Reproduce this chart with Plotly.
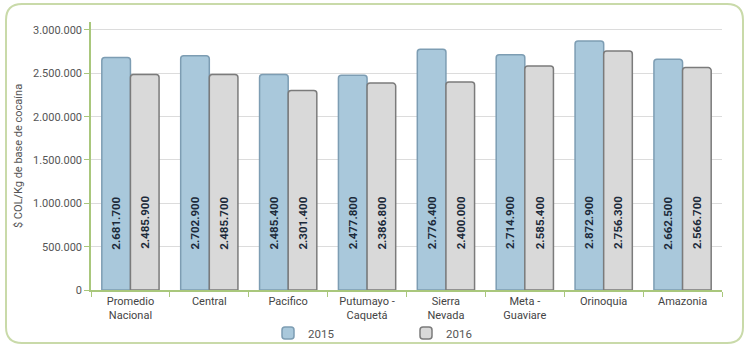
import plotly.graph_objects as go

categories = ["Promedio<br>Nacional", "Central", "Pacifico", "Putumayo -<br>Caquetá",
              "Sierra<br>Nevada", "Meta -<br>Guaviare", "Orinoquia", "Amazonia"]
values_2015 = [2681700, 2702900, 2485400, 2477800, 2776400, 2714900, 2872900, 2662500]
values_2016 = [2485900, 2485700, 2301400, 2386800, 2400000, 2585400, 2756300, 2566700]
y_ticks = [0, 500000, 1000000, 1500000, 2000000, 2500000, 3000000]

W, H = 750, 351
ml, mr, mt, mb = 91, 28, 22, 61
pw, ph = W - ml - mr, H - mt - mb

def px(x):
    return (x - ml) / pw

def py(y):
    return (H - mb - y) / ph

fig = go.Figure()
fig.add_trace(go.Bar(
    x=categories, y=values_2015, name="2015",
    marker=dict(color="#a9c8db", line=dict(color="#7d9db3", width=1.5)),
))
fig.add_trace(go.Bar(
    x=categories, y=values_2016, name="2016",
    marker=dict(color="#d9d9d9", line=dict(color="#7b7b7b", width=1.5)),
))

annotations = []
offset = 14.6
for series, shift in ((values_2015, -offset), (values_2016, offset)):
    for c, v in zip(categories, series):
        annotations.append(dict(
            x=c, y=775000, xref="x", yref="y", xshift=shift,
            text=f"{v:,}".replace(",", "."), textangle=-90, showarrow=False,
            font=dict(family="Roboto", size=11.5, color="#1c2a3a", weight="bold"),
        ))

# rounded outer border
x0, x1 = px(6), px(743)
y0, y1 = py(343), py(4)
rx, ry = 16 / pw, 16 / ph
path = (f"M {x0+rx},{y1} L {x1-rx},{y1} Q {x1},{y1} {x1},{y1-ry} "
        f"L {x1},{y0+ry} Q {x1},{y0} {x1-rx},{y0} L {x0+rx},{y0} "
        f"Q {x0},{y0} {x0},{y0+ry} L {x0},{y1-ry} Q {x0},{y1} {x0+rx},{y1} Z")

fig.update_layout(
    width=W, height=H,
    margin=dict(l=ml, r=mr, t=mt, b=mb, autoexpand=False),
    paper_bgcolor="white", plot_bgcolor="white",
    separators=",.",
    barmode="group", bargap=0.274, bargroupgap=0,
    barcornerradius=3,
    font=dict(family="Roboto", color="#555555"),
    showlegend=True,
    legend=dict(orientation="h", x=px(268), xanchor="left", y=py(333), yanchor="middle",
                entrywidth=93, entrywidthmode="pixels", bgcolor="rgba(0,0,0,0)",
                font=dict(size=11.5, color="#555555"), itemwidth=30),
    annotations=annotations,
    shapes=[dict(type="path", path=path, xref="paper", yref="paper",
                 line=dict(color="#c9daa9", width=2), layer="below")],
    xaxis=dict(
        showline=True, linecolor="#a9c77c", linewidth=1.5,
        ticks="outside", tickson="boundaries", ticklen=5, tickcolor="#a9c77c",
        tickfont=dict(size=11, color="#444444"), showgrid=False,
    ),
    yaxis=dict(
        range=[0, 3092000], tickvals=y_ticks, tickformat=",",
        showline=True, linecolor="#a9c77c", linewidth=1.5,
        ticks="outside", ticklen=5, tickcolor="#a9c77c",
        gridcolor="#dcdcdc", gridwidth=1, zeroline=False,
        tickfont=dict(size=11, color="#555555"),
        title=dict(text="$ COL/Kg de base de cocaína", font=dict(size=11, color="#555555"),
                   standoff=8),
    ),
)

fig.write_html("out.html")
